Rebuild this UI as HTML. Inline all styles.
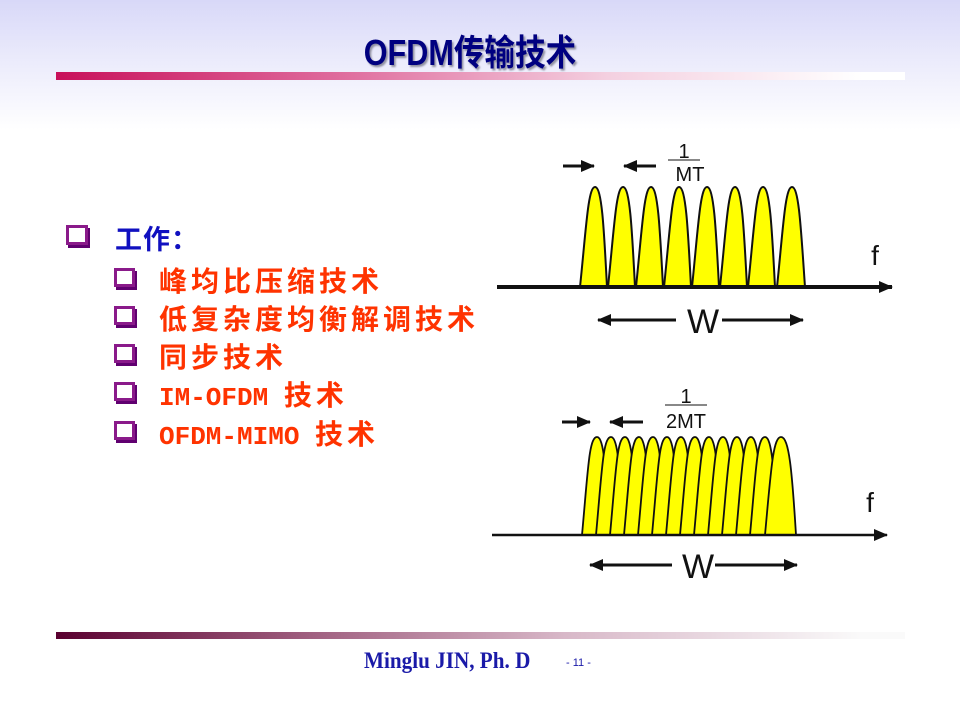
<!DOCTYPE html>
<html><head><meta charset="utf-8"><style>
body{margin:0;width:960px;height:720px;overflow:hidden;position:relative;font-family:"Liberation Sans","Noto Sans CJK SC",sans-serif;
background:linear-gradient(#d8d8f8 0px,#eeeefc 70px,#ffffff 130px,#ffffff 720px);}
.abs{position:absolute;white-space:nowrap}
.title{left:0;width:940px;text-align:center;top:24px;font-size:36px;font-weight:bold;color:#000080;text-shadow:2px 2px 2px #9090a0;transform:scaleX(0.85);}
.bar1{left:56px;top:72px;width:849px;height:8px;background:linear-gradient(90deg,#c8105a,#e070a0 35%,#f4d0e0 65%,#fff 95%)}
.bar2{left:56px;top:632px;width:849px;height:7px;background:linear-gradient(90deg,#5a0030,#a06080 30%,#d8b8c8 60%,#fafafa 95%)}
.sq{position:absolute;box-sizing:border-box;border:3px solid #8a1a8a;background:#fff;box-shadow:2px 3px 0 #600070}
.l1{font-size:27px;color:#1010c0;letter-spacing:1px;font-weight:bold}
.l2{font-size:28px;color:#ff3300;letter-spacing:4px;font-weight:bold}
.m{font-family:"Liberation Mono",monospace;font-weight:bold;letter-spacing:0;font-size:26px}
.foot{left:364px;top:648px;font-family:"Liberation Serif",serif;font-weight:bold;font-size:23px;color:#1a1aa8;transform:scaleX(0.92);transform-origin:left}
</style></head><body>
<div class="abs title">OFDM传输技术</div>
<div class="abs bar1"></div>
<div class="abs bar2"></div>

<div class="sq" style="left:66px;top:225px;width:22px;height:20px"></div>
<div class="abs l1" style="left:115px;top:218px">工作：</div>
<div class="sq" style="left:114px;top:268px;width:21px;height:19px"></div>
<div class="abs l2" style="left:159px;top:260px">峰均比压缩技术</div>
<div class="sq" style="left:114px;top:306px;width:21px;height:19px"></div>
<div class="abs l2" style="left:159px;top:298px">低复杂度均衡解调技术</div>
<div class="sq" style="left:114px;top:344px;width:21px;height:19px"></div>
<div class="abs l2" style="left:159px;top:336px">同步技术</div>
<div class="sq" style="left:114px;top:382px;width:21px;height:19px"></div>
<div class="abs l2" style="left:159px;top:374px"><span class="m">IM-OFDM </span>技术</div>
<div class="sq" style="left:114px;top:421px;width:21px;height:19px"></div>
<div class="abs l2" style="left:159px;top:413px"><span class="m">OFDM-MIMO </span>技术</div>

<svg class="abs" style="left:0;top:0" width="960" height="720">
<defs><marker id="a" markerWidth="14" markerHeight="12" refX="13" refY="6" orient="auto" markerUnits="userSpaceOnUse"><path d="M0,0 L14,6 L0,12z" fill="#111"/></marker>
<marker id="b" markerWidth="14" markerHeight="12" refX="13" refY="6" orient="auto" markerUnits="userSpaceOnUse"><path d="M0,0 L14,6 L0,12z" fill="#111"/></marker></defs>
<g fill="#ffff00" stroke="#111" stroke-width="2">
<path d="M580,287 C586,230 588,187 595,187 C602,187 604,230 607,287Z"/>
<path d="M608,287 C614,230 616,187 623,187 C630,187 632,230 635,287Z"/>
<path d="M636,287 C642,230 644,187 651,187 C658,187 660,230 663,287Z"/>
<path d="M664,287 C670,230 672,187 679,187 C686,187 688,230 691,287Z"/>
<path d="M692,287 C698,230 700,187 707,187 C714,187 716,230 719,287Z"/>
<path d="M720,287 C726,230 728,187 735,187 C742,187 744,230 747,287Z"/>
<path d="M748,287 C754,230 756,187 763,187 C770,187 772,230 775,287Z"/>
<path d="M777,287 C783,230 785,187 792,187 C799,187 801,230 805,287Z"/>
</g>
<line x1="497" y1="287" x2="892" y2="287" stroke="#111" stroke-width="4" marker-end="url(#b)"/>
<g fill="#ffff00" stroke="#111" stroke-width="1.8">
<path d="M582,535 C588,470 589,437 597,437 C604,437 606,470 610,535Z"/>
<path d="M596,535 C602,470 603,437 611,437 C618,437 620,470 624,535Z"/>
<path d="M610,535 C616,470 617,437 625,437 C632,437 634,470 638,535Z"/>
<path d="M624,535 C630,470 631,437 639,437 C646,437 648,470 652,535Z"/>
<path d="M638,535 C644,470 645,437 653,437 C660,437 662,470 666,535Z"/>
<path d="M652,535 C658,470 659,437 667,437 C674,437 676,470 680,535Z"/>
<path d="M666,535 C672,470 673,437 681,437 C688,437 690,470 694,535Z"/>
<path d="M680,535 C686,470 687,437 695,437 C702,437 704,470 708,535Z"/>
<path d="M694,535 C700,470 701,437 709,437 C716,437 718,470 722,535Z"/>
<path d="M708,535 C714,470 715,437 723,437 C730,437 732,470 736,535Z"/>
<path d="M722,535 C728,470 729,437 737,437 C744,437 746,470 750,535Z"/>
<path d="M736,535 C742,470 743,437 751,437 C758,437 760,470 764,535Z"/>
<path d="M750,535 C756,470 757,437 765,437 C772,437 774,470 778,535Z"/>
<path d="M765,535 C771,470 773,437 781,437 C789,437 792,470 796,535Z"/>
</g>
<line x1="492" y1="535" x2="887" y2="535" stroke="#111" stroke-width="2.5" marker-end="url(#b)"/>
<g stroke="#111" stroke-width="3">
<line x1="563" y1="166" x2="594" y2="166" marker-end="url(#a)"/>
<line x1="656" y1="166" x2="624" y2="166" marker-end="url(#a)"/>
<line x1="668" y1="160" x2="700" y2="160" stroke-width="1"/>
<line x1="676" y1="320" x2="598" y2="320" marker-end="url(#a)"/>
<line x1="722" y1="320" x2="803" y2="320" marker-end="url(#a)"/>
<line x1="562" y1="422" x2="590" y2="422" marker-end="url(#a)"/>
<line x1="643" y1="422" x2="610" y2="422" marker-end="url(#a)"/>
<line x1="665" y1="405" x2="707" y2="405" stroke-width="1"/>
<line x1="672" y1="565" x2="590" y2="565" marker-end="url(#a)"/>
<line x1="715" y1="565" x2="797" y2="565" marker-end="url(#a)"/>
</g>
<g font-family="Liberation Sans,sans-serif" fill="#111" text-anchor="middle">
<text x="684" y="158" font-size="20">1</text>
<text x="690" y="181" font-size="20">MT</text>
<text x="703" y="333" font-size="34">W</text>
<text x="875" y="265" font-size="28">f</text>
<text x="686" y="403" font-size="20">1</text>
<text x="686" y="428" font-size="20">2MT</text>
<text x="698" y="578" font-size="34">W</text>
<text x="870" y="512" font-size="28">f</text>
</g>
</svg>
<div class="abs foot">Minglu JIN, Ph. D</div>
<div class="abs" style="left:566px;top:657px;font-size:11px;color:#1a1aa8">- 11 -</div>
</body></html>
